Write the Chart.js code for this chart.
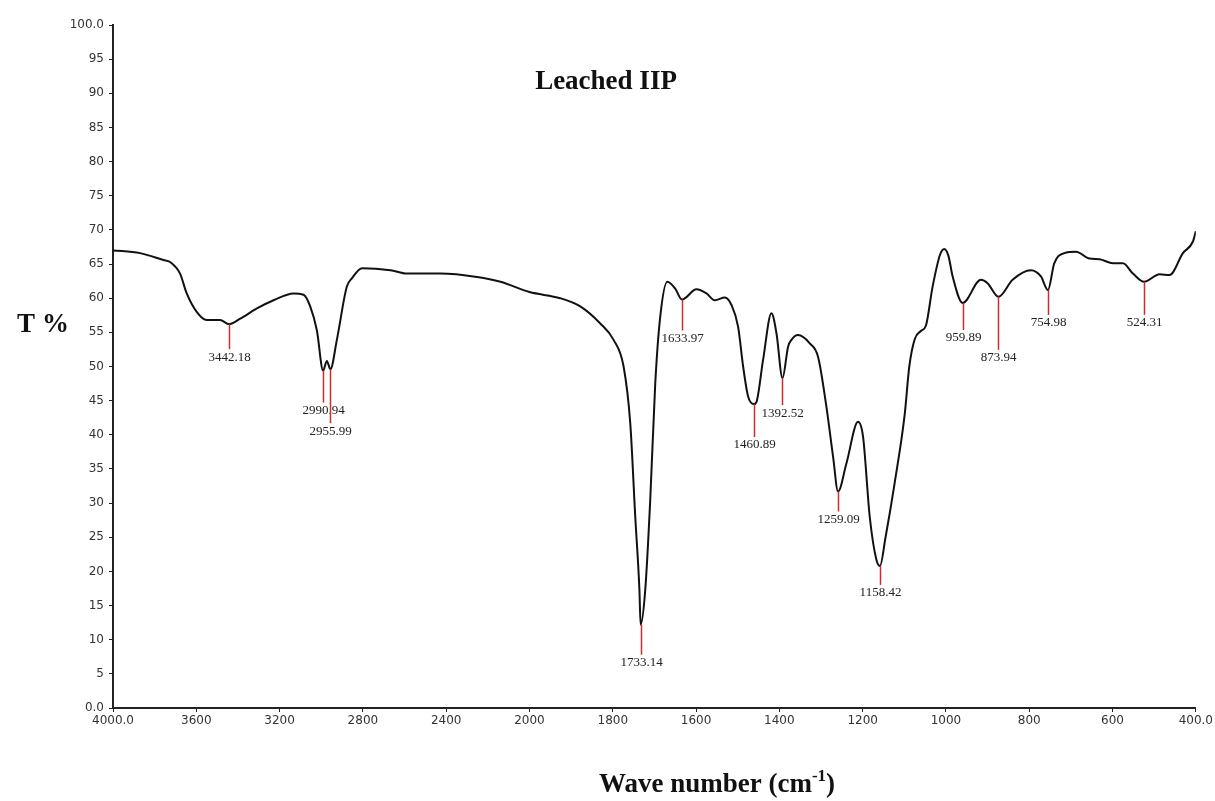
<!DOCTYPE html>
<html>
<head>
<meta charset="utf-8">
<script src="https://cdn.jsdelivr.net/npm/chart.js@4"></script>
<style>
  html, body { margin: 0; padding: 0; background: #fff; }
  canvas { display: block; }
</style>
</head>
<body>
<canvas id="ftir" width="1215" height="801"></canvas>
<script>
// spectrum (wave number in cm-1, transmittance in %)
const waveNumbers = [4000, 3870, 3758, 3726, 3678, 3646, 3598, 3550, 3486, 3442.18, 3389, 3309, 3229, 3133, 3085, 3053, 3021, 2990.94, 2973, 2955.99, 2925, 2877, 2853, 2804, 2668, 2588, 2428, 2252, 2139, 2000, 1926, 1878, 1830, 1798, 1774, 1758, 1746, 1736, 1733.14, 1722, 1710, 1698, 1686, 1669, 1650, 1633.97, 1599, 1575, 1555, 1531, 1515, 1499, 1487, 1475, 1460.89, 1455, 1439, 1419, 1407, 1392.52, 1379, 1371, 1355, 1327, 1307, 1287, 1271, 1259.09, 1239, 1211, 1199, 1183, 1167, 1158.42, 1145, 1123, 1099, 1088, 1075, 1060, 1048, 1032, 1014, 1004, 994, 984, 959.89, 916, 900, 873.94, 840, 796, 772, 754.98, 740, 716, 688, 655, 631, 599, 575, 551, 524.31, 487, 463, 431, 407, 400];
const transmittance = [67.0, 66.6, 65.6, 65.3, 63.6, 60.7, 58.0, 56.8, 56.8, 56.2, 57.0, 58.5, 59.7, 60.7, 60.5, 58.8, 55.3, 49.4, 50.8, 49.6, 53.9, 61.7, 62.9, 64.4, 64.1, 63.6, 63.6, 63.1, 62.4, 60.9, 60.0, 58.8, 56.3, 53.9, 50.0, 41.7, 28.0, 17.3, 12.2, 17.3, 30.5, 47.5, 57.3, 62.4, 61.4, 59.8, 61.3, 60.7, 59.7, 60.1, 59.0, 55.8, 50.0, 45.6, 44.5, 44.8, 51.0, 57.8, 54.9, 48.3, 52.9, 53.9, 54.6, 53.4, 51.4, 44.1, 36.8, 31.7, 35.8, 41.9, 39.7, 28.0, 21.7, 20.8, 25.0, 33.0, 43.0, 50.0, 54.0, 55.2, 56.0, 61.7, 66.4, 67.2, 66.2, 63.2, 59.3, 62.7, 62.2, 60.2, 62.7, 64.1, 63.2, 61.2, 65.1, 66.6, 66.8, 65.8, 65.7, 65.1, 65.1, 63.6, 62.4, 63.5, 63.4, 66.6, 68.3, 69.8];

// marked peaks
const peakWaveNumbers = [3442.18, 2990.94, 2955.99, 1733.14, 1633.97, 1460.89, 1392.52, 1259.09, 1158.42, 959.89, 873.94, 754.98, 524.31];
const peakTransmittance = [56.2, 49.4, 49.6, 12.2, 59.8, 44.5, 48.3, 31.7, 20.8, 59.3, 60.2, 61.2, 62.4];
const peakLabels = ["3442.18", "2990.94", "2955.99", "1733.14", "1633.97", "1460.89", "1392.52", "1259.09", "1158.42", "959.89", "873.94", "754.98", "524.31"];

// tick labels of the wave number axis (the scale halves below 2000)
const xTickLabels = ["4000.0", "3600", "3200", "2800", "2400", "2000", "1800", "1600", "1400", "1200", "1000", "800", "600", "400.0"];

// how far each red stick hangs below the curve, px
const stickLength = [25, 32, 54, 30, 31, 33, 27, 20, 19, 27, 53, 25, 33];

// 4000-2000 at 400 per step, 2000-400 at 200 per step
function toAxis(w) {
    return w >= 2000 ? (4000 - w) / 400 : 5 + (2000 - w) / 200;
}

const points = waveNumbers.map((w, i) => ({x: toAxis(w), y: transmittance[i]}));

const serif = "'Liberation Serif', 'Times New Roman', serif";

const peakPlugin = {
    id: "peaks",
    afterDatasetsDraw(chart) {
        const ctx = chart.ctx;
        const xs = chart.scales.x, ys = chart.scales.y;
        ctx.save();
        ctx.font = "13px " + serif;
        ctx.textAlign = "center";
        ctx.textBaseline = "middle";
        peakWaveNumbers.forEach((w, i) => {
            const px = Math.round(xs.getPixelForValue(toAxis(w))) + 0.5;
            const py = ys.getPixelForValue(peakTransmittance[i]);
            ctx.strokeStyle = "#d42a2a";
            ctx.lineWidth = 1.5;
            ctx.beginPath();
            ctx.moveTo(px, py);
            ctx.lineTo(px, py + stickLength[i]);
            ctx.stroke();
            ctx.fillStyle = "#222";
            ctx.fillText(peakLabels[i], px, py + stickLength[i] + 8);
        });
        ctx.restore();
    }
};

const textPlugin = {
    id: "texts",
    afterDraw(chart) {
        const ctx = chart.ctx;
        ctx.save();
        ctx.fillStyle = "#111";
        ctx.textBaseline = "alphabetic";
        ctx.textAlign = "center";

        ctx.font = "bold 27px " + serif;
        ctx.fillText("Leached IIP", 606, 89);

        ctx.font = "bold 27px " + serif;
        ctx.fillText("T %", 43, 332);

        // x axis title with superscript
        const big = "bold 27px " + serif;
        const small = "bold 17px " + serif;
        const a = "Wave number (cm", sup = "-1", b = ")";
        ctx.font = big;
        const wa = ctx.measureText(a).width, wb = ctx.measureText(b).width;
        ctx.font = small;
        const ws = ctx.measureText(sup).width;
        const x = 717 - (wa + ws + wb) / 2;
        const base = 792;
        ctx.textAlign = "left";
        ctx.font = big;
        ctx.fillText(a, x, base);
        ctx.font = small;
        ctx.fillText(sup, x + wa, base - 11);
        ctx.font = big;
        ctx.fillText(b, x + wa + ws, base);
        ctx.restore();
    }
};

new Chart(document.getElementById("ftir"), {
    type: "line",
    data: {
        datasets: [{
            data: points,
            borderColor: "#111",
            borderWidth: 2,
            pointRadius: 0,
            cubicInterpolationMode: "monotone",
            fill: false
        }]
    },
    options: {
        responsive: false,
        animation: false,
        layout: {padding: {top: 25, right: 18, left: 0, bottom: 0}},
        plugins: {legend: {display: false}, tooltip: {enabled: false}},
        scales: {
            x: {
                type: "linear",
                min: 0,
                max: 13,
                afterFit(scale) { scale.height = 93; },
                border: {color: "#222", width: 2},
                grid: {drawOnChartArea: false, color: "#222", tickLength: 4},
                ticks: {
                    stepSize: 1,
                    padding: 2,
                    maxRotation: 0,
                    autoSkip: false,
                    color: "#333",
                    font: {family: "'DejaVu Sans', Tahoma, sans-serif", size: 12},
                    callback: v => xTickLabels[v]
                }
            },
            y: {
                min: 0,
                max: 100,
                afterFit(scale) { scale.width = 113; },
                border: {color: "#222", width: 2},
                grid: {drawOnChartArea: false, color: "#222", tickLength: 4},
                ticks: {
                    stepSize: 5,
                    padding: 5,
                    color: "#333",
                    font: {family: "'DejaVu Sans', Tahoma, sans-serif", size: 12},
                    callback: v => (v === 0 || v === 100) ? v.toFixed(1) : String(v)
                }
            }
        }
    },
    plugins: [peakPlugin, textPlugin]
});
</script>
</body>
</html>
